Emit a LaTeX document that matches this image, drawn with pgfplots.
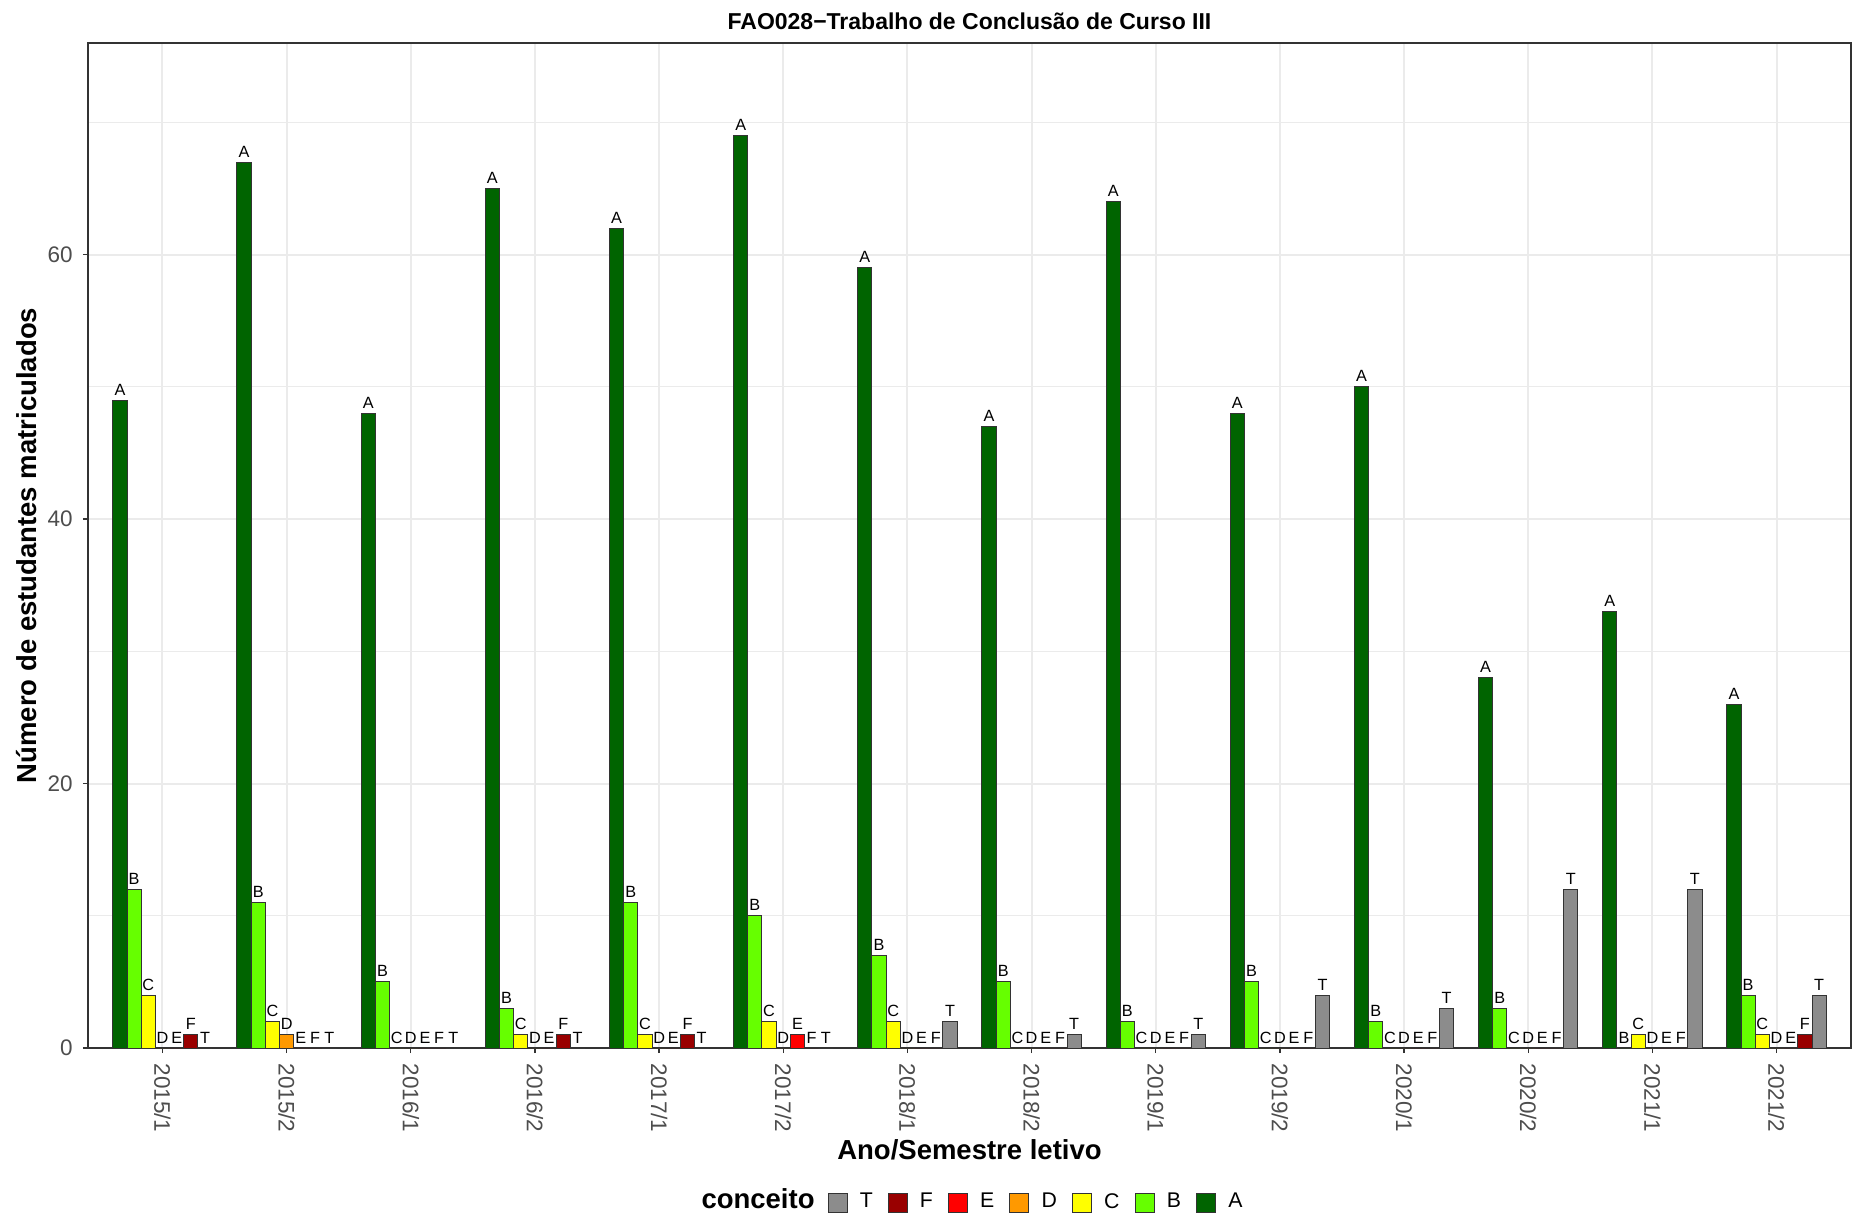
\documentclass[border=0pt]{standalone}
\usepackage{pgfplots}
\usepackage{pgfplotstable}
\usepackage{fontspec}
\setmainfont{Liberation Sans}
\pgfplotsset{compat=1.18}

\definecolor{cA}{HTML}{006400}
\definecolor{cB}{HTML}{66FF00}
\definecolor{cC}{HTML}{FFFF00}
\definecolor{cD}{HTML}{FF9900}
\definecolor{cE}{HTML}{FF0000}
\definecolor{cF}{HTML}{990000}
\definecolor{cT}{HTML}{8C8C8C}
\definecolor{gridc}{HTML}{EBEBEB}
\definecolor{framec}{HTML}{333333}
\definecolor{tickc}{HTML}{4D4D4D}

% semester, then counts per grade
\pgfplotstableread{
x  A  B  C  D  E  F  T
1  49 12 4  0  0  1  0
2  67 11 2  1  0  0  0
3  48 5  0  0  0  0  0
4  65 3  1  0  0  1  0
5  62 11 1  0  0  1  0
6  69 10 2  0  1  0  0
7  59 7  2  0  0  0  2
8  47 5  0  0  0  0  1
9  64 2  0  0  0  0  1
10 48 5  0  0  0  0  4
11 50 2  0  0  0  0  3
12 28 3  0  0  0  0  12
13 33 0  1  0  0  0  12
14 26 4  1  0  0  1  4
}\grades

% dodge: 7 bars in 0.8 of a category
\pgfplotsset{
  gbar/.style={ybar, bar width=0.114286, bar shift=0pt,
    draw=black!80, line width=0.4pt,
    nodes near coords style={font=\fontsize{6.5}{7}\selectfont, black,
      anchor=base, inner sep=0pt, yshift=2pt},
    legend image code/.code={\draw[##1, draw=black!80, line width=0.4pt]
      (0pt,-3.8pt) rectangle (7.6pt,3.8pt);}},
}

\begin{document}
\begin{tikzpicture}
\begin{axis}[
  at={(0,0)}, anchor=south west,
  scale only axis, width=705.2pt, height=402pt,
  clip=false,
  xmin=0.4, xmax=14.6, ymin=0, ymax=76,
  xtick={1,...,14},
  xticklabels={2015/1,2015/2,2016/1,2016/2,2017/1,2017/2,2018/1,2018/2,2019/1,2019/2,2020/1,2020/2,2021/1,2021/2},
  ytick={0,20,40,60},
  minor ytick={10,30,50,70},
  minor tick length=0pt,
  major tick length=2pt,
  tick align=outside,
  tick pos=left,
  tick style={draw=framec, line width=0.5pt},
  xmajorgrids, ymajorgrids, yminorgrids,
  major grid style={draw=gridc, line width=0.8pt},
  minor grid style={draw=gridc, line width=0.45pt},
  axis line style={draw=framec, line width=0.6pt},
  /pgf/number format/assume math mode=true,
  ticklabel style={font=\fontsize{9}{10}\selectfont, text=tickc},
  yticklabel style={anchor=east, inner sep=0pt, xshift=-3.9pt},
  xticklabel style={rotate=-90, anchor=west, inner sep=0pt, xshift=4pt},
  xlabel={Ano/Semestre letivo},
  xlabel style={font=\bfseries\fontsize{11}{13}\selectfont,
    at={(axis description cs:0.5,-0.11144)}, anchor=base},
  ylabel={Número de estudantes matriculados},
  ylabel style={font=\bfseries\fontsize{11}{13}\selectfont,
    at={(axis description cs:-0.02893,0.5)}, anchor=base, rotate=0},
  reverse legend,
  legend columns=-1,
  legend style={draw=none, fill=none, inner sep=0pt,
    at={(axis description cs:0.41917,-0.15373)}, anchor=west,
    font=\fontsize{8.5}{10}\selectfont,
    /tikz/every odd column/.append style={column sep=2.9pt},
    /tikz/every even column/.append style={column sep=4pt}},
]
\addplot[gbar, fill=cA, nodes near coords={A}] table[x expr=\thisrow{x}-0.342857, y=A] {\grades};
\addlegendentry{A}
\addplot[gbar, fill=cB, nodes near coords={B}] table[x expr=\thisrow{x}-0.228571, y=B] {\grades};
\addlegendentry{B}
\addplot[gbar, fill=cC, nodes near coords={C}] table[x expr=\thisrow{x}-0.114286, y=C] {\grades};
\addlegendentry{C}
\addplot[gbar, fill=cD, nodes near coords={D}] table[x=x, y=D] {\grades};
\addlegendentry{D}
\addplot[gbar, fill=cE, nodes near coords={E}] table[x expr=\thisrow{x}+0.114286, y=E] {\grades};
\addlegendentry{E}
\addplot[gbar, fill=cF, nodes near coords={F}] table[x expr=\thisrow{x}+0.228571, y=F] {\grades};
\addlegendentry{F}
\addplot[gbar, fill=cT, nodes near coords={T}] table[x expr=\thisrow{x}+0.342857, y=T] {\grades};
\addlegendentry{T}
\node[anchor=base, inner sep=0pt, font=\bfseries\fontsize{9.2}{11}\selectfont]
  at (axis description cs:0.5,1.01294) {FAO028−Trabalho de Conclusão de Curso III};
\node[anchor=base west, inner sep=0pt, font=\bfseries\fontsize{11}{13}\selectfont]
  at (axis description cs:0.3477,-0.1597) {conceito};
\end{axis}
\pgfresetboundingbox
\path (-35.2pt,-65.6pt) rectangle (708.8pt,419.2pt);
\end{tikzpicture}
\end{document}
